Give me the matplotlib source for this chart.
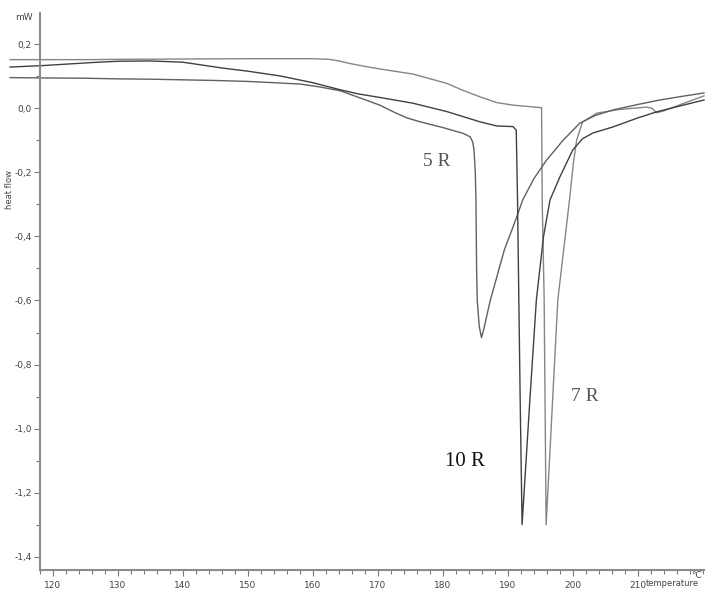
import matplotlib
matplotlib.use("Agg")
import matplotlib.pyplot as plt
from matplotlib.ticker import MultipleLocator, FixedLocator, FuncFormatter

# DSC heat-flow curves (temperature in °C, heat flow in mW)
t_5r = [113.4, 118.0, 125, 130, 135, 140, 145, 150, 155, 158, 161, 164.2, 167.2, 170.3,
        172.5, 174.5, 176.5, 180, 183.1, 184.2, 184.6, 184.8, 185.0, 185.1, 185.2,
        185.3, 185.6, 185.95, 186.3, 187.3, 188.4, 189.5, 191, 192.3, 194, 196.0,
        198.5, 201.1, 203.5, 206.2, 210, 213.4, 217, 220.2]
hf_5r = [0.096, 0.095, 0.094, 0.092, 0.091, 0.089, 0.087, 0.084, 0.079, 0.076, 0.067, 0.055,
         0.033, 0.010, -0.012, -0.030, -0.042, -0.060, -0.078, -0.089, -0.105, -0.13,
         -0.20, -0.29, -0.50, -0.60, -0.68, -0.716, -0.69, -0.60, -0.52, -0.44, -0.36,
         -0.286, -0.22, -0.161, -0.10, -0.046, -0.022, -0.005, 0.012, 0.026, 0.038, 0.048]

t_10r = [113.4, 118, 122, 126, 130, 135, 140, 143, 146, 150, 155, 160, 164.2, 167, 170.3,
         175.4, 180.6, 185.7, 188.3, 190.8, 191.3, 191.5, 191.7, 191.9, 192.2, 192.6,
         193.4, 194.4, 195.5, 196.5, 198, 200, 201.5, 203.1, 206.2, 210, 212.9, 217, 220.2]
hf_10r = [0.129, 0.133, 0.138, 0.143, 0.147, 0.148, 0.144, 0.135, 0.126, 0.116, 0.101, 0.080,
          0.058, 0.045, 0.034, 0.016, -0.010, -0.042, -0.055, -0.057, -0.068, -0.286,
          -0.598, -0.90, -1.30, -1.17, -0.91, -0.598, -0.40, -0.286, -0.215, -0.13,
          -0.095, -0.077, -0.058, -0.030, -0.011, 0.010, 0.026]

t_7r = [113.4, 118, 125, 130, 140, 150, 160, 162.5, 164, 165.7, 168, 170.3, 175.4, 180.6, 183,
        185.7, 188.3, 190.8, 195.2, 195.3, 195.6, 195.9, 196.8, 197.7, 199.5, 200.1,
        200.6, 201.5, 203.7, 207, 211.4, 212.2, 212.9, 214, 217, 220.2]
hf_7r = [0.152, 0.152, 0.152, 0.153, 0.154, 0.155, 0.155, 0.153, 0.148, 0.140, 0.131, 0.123,
         0.107, 0.078, 0.057, 0.036, 0.018, 0.010, 0.002, -0.29, -0.598, -1.30, -0.95,
         -0.598, -0.286, -0.17, -0.099, -0.043, -0.015, -0.004, 0.004, 0.0, -0.014,
         -0.008, 0.015, 0.039]

labels = ["5 R", "7 R", "10 R"]
label_pos = [(177.0, -0.165), (199.8, -0.90), (180.4, -1.104)]
label_sizes = [14, 14, 15]
label_colors = ["#555555", "#555555", "#111111"]

x_major = [120, 130, 140, 150, 160, 170, 180, 190, 200, 210]

fig = plt.figure(figsize=(7.06, 5.89), dpi=100)
ax = fig.add_axes([40 / 706, 19 / 589, 664 / 706, 557 / 589])

ax.plot(t_7r, hf_7r, color="#858585", lw=1.0, clip_on=False)
ax.plot(t_5r, hf_5r, color="#606060", lw=1.0, clip_on=False)
ax.plot(t_10r, hf_10r, color="#404040", lw=1.0, clip_on=False)

for txt, (x, y), s, c in zip(labels, label_pos, label_sizes, label_colors):
    ax.text(x, y, txt, family="Liberation Serif", fontsize=s, color=c,
            ha="left", va="center")

ax.set_xlim(118.0, 220.2)
ax.set_ylim(-1.4416, 0.2977)

for side in ("top", "right"):
    ax.spines[side].set_visible(False)
for side in ("left", "bottom"):
    ax.spines[side].set_color("#8c8c8c")
    ax.spines[side].set_linewidth(1.5)

ax.xaxis.set_major_locator(FixedLocator(x_major))
ax.xaxis.set_minor_locator(MultipleLocator(2))
ax.yaxis.set_major_locator(MultipleLocator(0.2))
ax.yaxis.set_minor_locator(MultipleLocator(0.1))
ax.yaxis.set_major_formatter(FuncFormatter(lambda v, p: f"{v:.1f}".replace(".", ",").replace("-0,0", "0,0")))
ax.tick_params(axis="both", which="both", colors="#777777", labelcolor="#444444",
               labelsize=6.5, width=0.8)
ax.tick_params(axis="y", which="major", length=4, pad=2)
ax.tick_params(axis="y", which="minor", length=3)
ax.tick_params(axis="x", which="major", length=4, pad=4)
ax.tick_params(axis="x", which="minor", length=3)

fig.text(24 / 706, 1 - 17 / 589, "mW", fontsize=6.5, color="#444444", ha="center", va="center")
fig.text(10 / 706, 1 - 190 / 589, "heat flow", fontsize=6, color="#444444",
         rotation=90, ha="center", va="center")
fig.text(672 / 706, 1 - 584 / 589, "temperature", fontsize=6, color="#444444",
         ha="center", va="center")
fig.text(697 / 706, 1 - 576 / 589, "°C", fontsize=6.5, color="#444444",
         ha="center", va="center")

fig.savefig("out.png", dpi=100)
